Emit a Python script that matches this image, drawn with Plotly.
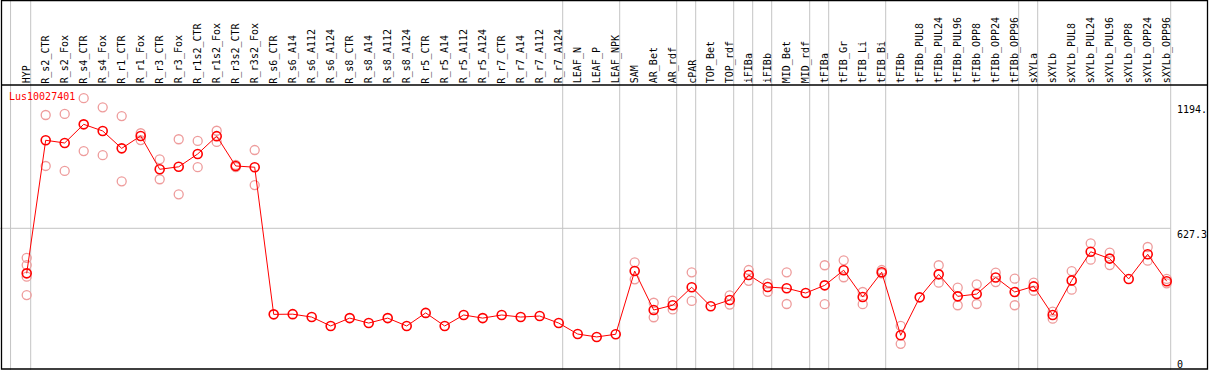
import plotly.graph_objects as go

# ---------------- data ----------------
categories = [
    "HYP", "R_s2_CTR", "R_s2_Fox", "R_s4_CTR", "R_s4_Fox", "R_r1_CTR", "R_r1_Fox",
    "R_r3_CTR", "R_r3_Fox", "R_r1s2_CTR", "R_r1s2_Fox", "R_r3s2_CTR", "R_r3s2_Fox",
    "R_s6_CTR", "R_s6_A14", "R_s6_A112", "R_s6_A124", "R_s8_CTR", "R_s8_A14",
    "R_s8_A112", "R_s8_A124", "R_r5_CTR", "R_r5_A14", "R_r5_A112", "R_r5_A124",
    "R_r7_CTR", "R_r7_A14", "R_r7_A112", "R_r7_A124", "LEAF_N", "LEAF_P", "LEAF_NPK",
    "SAM", "AR_Bet", "AR_rdf", "cPAR", "TOP_Bet", "TOP_rdf", "iFIBa", "iFIBb",
    "MID_Bet", "MID_rdf", "tFIBa", "tFIB_Gr", "tFIB_Li", "tFIB_Bi", "tFIBb",
    "tFIBb_PUL8", "tFIBb_PUL24", "tFIBb_PUL96", "tFIBb_OPP8", "tFIBb_OPP24",
    "tFIBb_OPP96", "sXYLa", "sXYLb", "sXYLb_PUL8", "sXYLb_PUL24", "sXYLb_PUL96",
    "sXYLb_OPP8", "sXYLb_OPP24", "sXYLb_OPP96",
]

mean_values = [
    410, 1052, 1039, 1129, 1097, 1013, 1073, 912, 924, 986, 1072, 928, 922,
    212, 213, 199, 156, 194, 170, 194, 156, 219, 156, 209, 194, 209, 199, 204, 170,
    117, 103, 116,
    421, 233, 256, 343, 251, 281, 402, 344, 338, 315, 352, 425, 296, 415, 111,
    294, 405, 299, 310, 390, 320, 347, 209, 376, 514, 481, 383, 502, 372,
]

replicate_values = [
    [485, 450, 394, 305], [1174, 928], [1179, 904], [1255, 1000], [1211, 980],
    [1169, 854], [1086, 1053], [960, 864], [1057, 791], [1049, 922], [1098, 1044],
    [933, 922], [1005, 836],
    [], [], [], [], [], [], [], [], [], [], [], [], [], [], [], [],
    [], [], [],
    [463, 381], [268, 198], [278, 236], [415, 277], [], [304, 259], [426, 374],
    [362, 321], [415, 262], [], [449, 261], [473, 391], [320, 261], [426, 410],
    [156, 70], [], [449, 365], [341, 256], [357, 262], [413, 368], [384, 256],
    [365, 326], [225, 191], [421, 331], [555, 476], [510, 450], [], [537, 471],
    [383, 362],
]

# last category of each sample group (a grey separator follows it)
group_ends = ["HYP", "R_r7_A124", "LEAF_NPK", "AR_rdf", "cPAR", "TOP_rdf", "iFIBa",
              "iFIBb", "MID_rdf", "tFIBa", "tFIB_Bi", "tFIBb_OPP96", "sXYLa", "sXYLb_OPP96"]

mid_tick = 627.3
y_labels = ["1194.", "627.3", "0"]
gene_id = "Lus10027401"

# ---------------- layout geometry ----------------
W, H = 1209, 370
X0, DX = 7.7, 19.0            # pixel of index 0, pixel step per category
Y_ZERO_PX, PX_PER_UNIT = 358.3, 0.20724
HEADER_PX = 85

xr = [(0 - X0) / DX, (W - X0) / DX]
yr = [-(H - Y_ZERO_PX) / PX_PER_UNIT, Y_ZERO_PX / PX_PER_UNIT]


def px_x(p):
    return p / W


def px_y(p):
    return 1 - p / H


xs = list(range(1, len(categories) + 1))
rep_x, rep_y = [], []
for i, vals in zip(xs, replicate_values):
    for v in vals:
        rep_x.append(i)
        rep_y.append(v)

fig = go.Figure()
fig.add_trace(go.Scatter(
    x=rep_x, y=rep_y, mode="markers",
    marker=dict(symbol="circle-open", size=9, color="#ee9c9c", line=dict(width=1.3)),
    hoverinfo="skip", showlegend=False,
))
fig.add_trace(go.Scatter(
    x=xs, y=mean_values, mode="lines+markers",
    line=dict(color="#ff0000", width=1),
    marker=dict(symbol="circle-open", size=9, color="#ff0000", line=dict(width=1.6)),
    showlegend=False,
))

shapes = []
sep_color = "#c4c4c4"
sep_x = [0.15] + [categories.index(c) + 1 + 4 / DX for c in group_ends]
for sx in sep_x:
    shapes.append(dict(type="line", xref="x", yref="paper", x0=sx, x1=sx, y0=0, y1=1,
                       line=dict(color=sep_color, width=1), layer="below"))
shapes.append(dict(type="line", xref="x", yref="y", x0=xr[0], x1=sep_x[-1],
                   y0=mid_tick, y1=mid_tick, line=dict(color=sep_color, width=1), layer="below"))
# black frame and header rule
shapes.append(dict(type="rect", xref="paper", yref="paper",
                   x0=px_x(1.5), x1=px_x(1207.5), y0=px_y(369), y1=px_y(0.5),
                   line=dict(color="black", width=1.3)))
shapes.append(dict(type="line", xref="paper", yref="paper",
                   x0=px_x(1.5), x1=px_x(1207.5), y0=px_y(HEADER_PX), y1=px_y(HEADER_PX),
                   line=dict(color="black", width=1.3)))

font_mono = "DejaVu Sans Mono"
annotations = []
for i, c in zip(xs, categories):
    annotations.append(dict(x=i, y=px_y(HEADER_PX - 0.5), xref="x", yref="paper", text=c,
                            textangle=-90, showarrow=False, xanchor="center", yanchor="bottom",
                            font=dict(family=font_mono, size=10, color="black"), borderpad=0))
annotations.append(dict(x=px_x(8), y=px_y(96.7), xref="paper", yref="paper", text=gene_id,
                        showarrow=False, xanchor="left", yanchor="middle",
                        font=dict(family=font_mono, size=10, color="#ff0000"), borderpad=0))
annotations.append(dict(x=px_x(1176), y=px_y(103), xref="paper", yref="paper", text=y_labels[0],
                        showarrow=False, xanchor="left", yanchor="top",
                        font=dict(family=font_mono, size=10, color="black"), borderpad=0))
annotations.append(dict(x=px_x(1176), y=mid_tick, xref="paper", yref="y", text=y_labels[1],
                        showarrow=False, xanchor="left", yanchor="top",
                        font=dict(family=font_mono, size=10, color="black"), borderpad=0))
annotations.append(dict(x=px_x(1176), y=0, xref="paper", yref="y", text=y_labels[2],
                        showarrow=False, xanchor="left", yanchor="top",
                        font=dict(family=font_mono, size=10, color="black"), borderpad=0))

fig.update_layout(
    width=W, height=H,
    margin=dict(l=0, r=0, t=0, b=0, pad=0),
    paper_bgcolor="white", plot_bgcolor="white",
    xaxis=dict(range=xr, visible=False, fixedrange=True),
    yaxis=dict(range=yr, visible=False, fixedrange=True),
    shapes=shapes, annotations=annotations,
    showlegend=False,
)

fig.write_html(
    "out.html",
    config={"displayModeBar": False},
    post_script="document.body.style.margin='0';document.body.style.overflow='hidden';",
)
